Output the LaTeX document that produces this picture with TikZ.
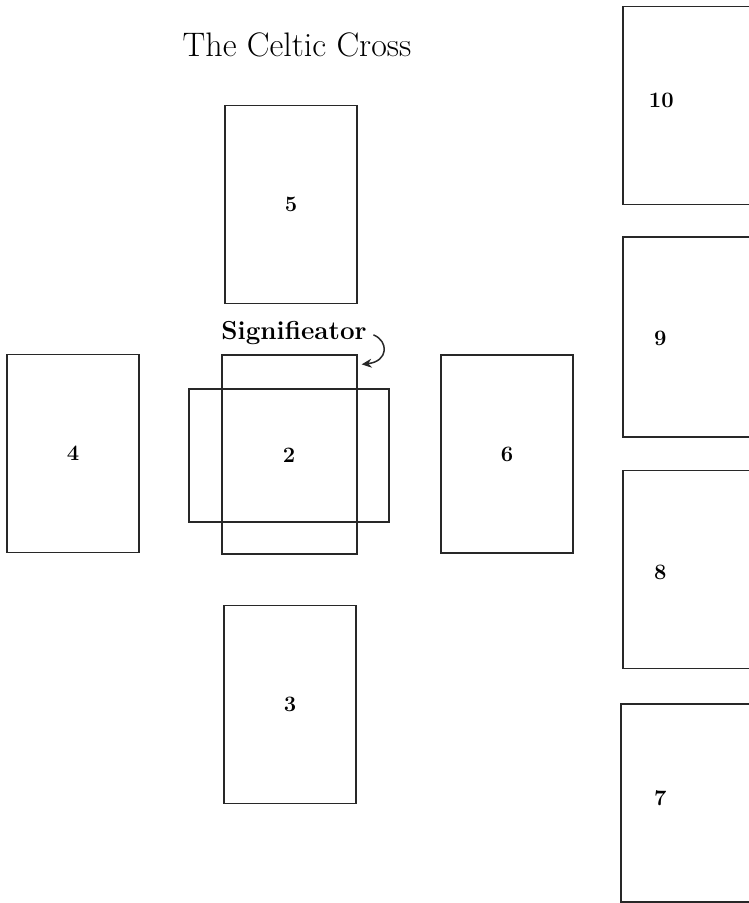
\documentclass[tikz,border=0pt]{standalone}
\usepackage{tikz}
\usetikzlibrary{arrows.meta,calc,positioning}
\definecolor{cardline}{RGB}{40,40,40}

\begin{document}
\begin{tikzpicture}[x=1pt,y=-1pt,
    card/.style={draw=cardline,line width=1.3pt,minimum width=132pt,minimum height=198pt,inner sep=0pt,font=\fontsize{22}{24}\selectfont\bfseries},
    crosscard/.style={card,minimum width=200pt,minimum height=133pt},
    num/.style={font=\fontsize{22}{24}\selectfont\bfseries,inner sep=0pt}]
    \useasboundingbox (0,0) rectangle (749,903);
    \clip (0,0) rectangle (749,903);
    \node[font=\fontsize{34}{38}\selectfont] (title) at (297,45) {The Celtic Cross};
    % the cross
    \node[card,minimum width=135pt,minimum height=199pt] (sig) at (289.5,454.5) {};
    \node[crosscard] (c2) at (289,455.5) {2};
    \node[card] (c5) at (291,204.5) {5};
    \node[card] (c3) at (290,704.5) {3};
    \node[card] (c4) at (73,453.5) {4};
    \node[card] (c6) at (507,454) {6};
    % the staff
    \node[card] (c10) at (689,105.5) {};
    \node[card,minimum height=200pt] (c9) at (689,337) {};
    \node[card] (c8) at (689,569.5) {};
    \node[card] (c7) at (687,803) {};
    \node[num] at ($(c10.west)+(39,-5)$) {10};
    \node[num] at ($(c9.west)+(38,1)$) {9};
    \node[num] at ($(c8.west)+(38,3)$) {8};
    \node[num] at ($(c7.west)+(40,-5)$) {7};
    \node[font=\fontsize{26}{28}\selectfont\bfseries,inner sep=2pt] (label) at (294,333) {Signifieator};
    \coordinate (tip) at ($(sig.north east)+(4,10)$);
    \draw[cardline,line width=1.5pt,shorten <=5pt,-{Stealth[length=10pt,width=9pt]}] (label.east) .. controls +(20,8) and +(27,-3) .. (tip);
\end{tikzpicture}
\end{document}
